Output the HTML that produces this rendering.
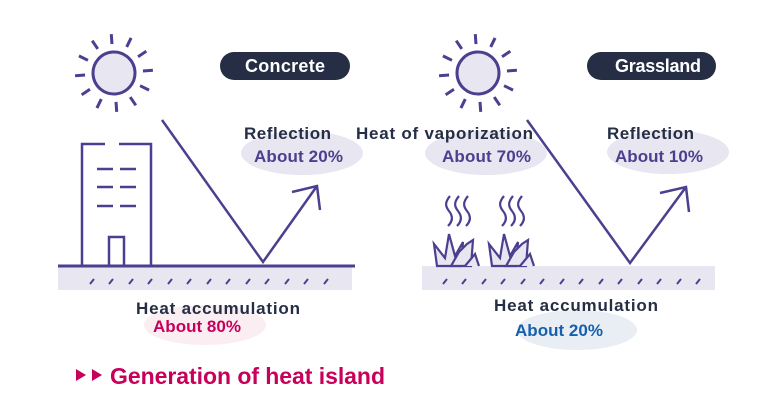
<!DOCTYPE html>
<html><head><meta charset="utf-8"><style>html,body{margin:0;padding:0;background:#fff}svg{display:block}text{font-family:"Liberation Sans",sans-serif;font-weight:bold}</style></head>
<body>
<svg width="760" height="420" viewBox="0 0 760 420" xmlns="http://www.w3.org/2000/svg">
<defs>
<g id="sun" stroke="#4b3f8f" stroke-width="3" stroke-linecap="butt">
<circle cx="0" cy="0" r="21" fill="#e8e6f1"/>
<g id="ray"><line x1="0" y1="-29" x2="0" y2="-39"/></g>
<use href="#ray" transform="rotate(30)"/><use href="#ray" transform="rotate(60)"/><use href="#ray" transform="rotate(90)"/>
<use href="#ray" transform="rotate(120)"/><use href="#ray" transform="rotate(150)"/><use href="#ray" transform="rotate(180)"/>
<use href="#ray" transform="rotate(210)"/><use href="#ray" transform="rotate(240)"/><use href="#ray" transform="rotate(270)"/>
<use href="#ray" transform="rotate(300)"/><use href="#ray" transform="rotate(330)"/>
</g>
<g id="grass" stroke="#4b3f8f" stroke-width="2.2" fill="#e8e6f1" stroke-linejoin="miter">
<path d="M0,34 L-3,12 L8,26 L12,2 L18,24 L26,10 L24,34 Z"/>
<path d="M14,34 L22,20 L30,12 L36,8 L34,34 Z"/>
<path d="M28,34 L38,22 L42,34"/>
</g>
<g id="steam" stroke="#4b3f8f" stroke-width="2.2" fill="none">
<path d="M3,0 C-2,6 -2,10 2,15 C6,20 6,25 1,30"/>
<path d="M12,0 C7,6 7,10 11,15 C15,20 15,25 10,30"/>
<path d="M21,0 C16,6 16,10 20,15 C24,20 24,25 19,30"/>
</g>
</defs>

<!-- LEFT: Concrete -->
<g transform="translate(114,73) rotate(-4)"><use href="#sun"/></g>
<rect x="220" y="52" width="130" height="28" rx="14" fill="#252e45"/>
<text x="285" y="72" fill="#fff" font-size="18" text-anchor="middle" textLength="80">Concrete</text>

<rect x="58" y="266" width="294" height="24" fill="#e8e6f0"/>
<line x1="58" y1="266" x2="355" y2="266" stroke="#4b3f8f" stroke-width="3"/>
<g stroke="#4b3f8f" stroke-width="2">
<path d="M90,284 l4,-5 M109,284 l4,-5 M129,284 l4,-5 M148,284 l4,-5 M168,284 l4,-5 M187,284 l4,-5 M207,284 l4,-5 M226,284 l4,-5 M246,284 l4,-5 M265,284 l4,-5 M285,284 l4,-5 M304,284 l4,-5 M324,284 l4,-5"/>
</g>
<g stroke="#4b3f8f" stroke-width="2.5" fill="none">
<path d="M82,266 V144 H105 M119,144 H151 V266"/>
<path d="M97,169 H113 M120,169 H136 M97,187 H113 M120,187 H136 M97,206 H113 M120,206 H136"/>
<path d="M109,266 V237 H124 V266"/>
<path d="M162,120 L263,262 L317,186"/>
<path d="M292,192 L317,186 L320,210"/>
</g>
<ellipse cx="302" cy="153" rx="61" ry="22" fill="#e8e6f1"/>
<text x="244" y="139" fill="#252e45" font-size="17" textLength="87">Reflection</text>
<text x="254" y="162" fill="#4b3f8f" font-size="17" textLength="89">About 20%</text>
<ellipse cx="205" cy="325" rx="61" ry="20" fill="#fbeef3"/>
<text x="136" y="314" fill="#252e45" font-size="17" textLength="164">Heat accumulation</text>
<text x="153" y="332" fill="#c8005a" font-size="17" textLength="88">About 80%</text>

<!-- RIGHT: Grassland -->
<g transform="translate(478,73) rotate(-4)"><use href="#sun"/></g>
<rect x="587" y="52" width="129" height="28" rx="14" fill="#252e45"/>
<text x="658" y="72" fill="#fff" font-size="18" text-anchor="middle" textLength="86">Grassland</text>

<rect x="422" y="266" width="293" height="24" fill="#e8e6f0"/>
<g stroke="#4b3f8f" stroke-width="2">
<path d="M443,284 l4,-5 M462,284 l4,-5 M482,284 l4,-5 M501,284 l4,-5 M521,284 l4,-5 M540,284 l4,-5 M560,284 l4,-5 M579,284 l4,-5 M599,284 l4,-5 M618,284 l4,-5 M638,284 l4,-5 M657,284 l4,-5 M677,284 l4,-5 M696,284 l4,-5"/>
</g>
<use href="#steam" transform="translate(447,196)"/>
<use href="#steam" transform="translate(501,196)"/>
<use href="#grass" transform="translate(437,232)"/>
<use href="#grass" transform="translate(492,232)"/>
<g stroke="#4b3f8f" stroke-width="2.5" fill="none">
<path d="M527,120 L630,263 L686,187"/>
<path d="M660,193 L686,187 L689,212"/>
</g>
<ellipse cx="486" cy="153" rx="61" ry="22" fill="#e8e6f1"/>
<text x="356" y="139" fill="#252e45" font-size="17" textLength="177">Heat of vaporization</text>
<text x="442" y="162" fill="#4b3f8f" font-size="17" textLength="89">About 70%</text>
<ellipse cx="668" cy="152" rx="61" ry="22" fill="#e8e6f1"/>
<text x="607" y="139" fill="#252e45" font-size="17" textLength="87">Reflection</text>
<text x="615" y="162" fill="#4b3f8f" font-size="17" textLength="88">About 10%</text>
<ellipse cx="577" cy="330" rx="60" ry="20" fill="#e9eef4"/>
<text x="494" y="311" fill="#252e45" font-size="17" textLength="164">Heat accumulation</text>
<text x="515" y="336" fill="#1560ad" font-size="17" textLength="88">About 20%</text>

<!-- Title -->
<path d="M76,369 L86,375 L76,381 Z M92,369 L102,375 L92,381 Z" fill="#c8005a"/>
<text x="110" y="384" fill="#c8005a" font-size="23" textLength="275">Generation of heat island</text>
</svg>
</body></html>
